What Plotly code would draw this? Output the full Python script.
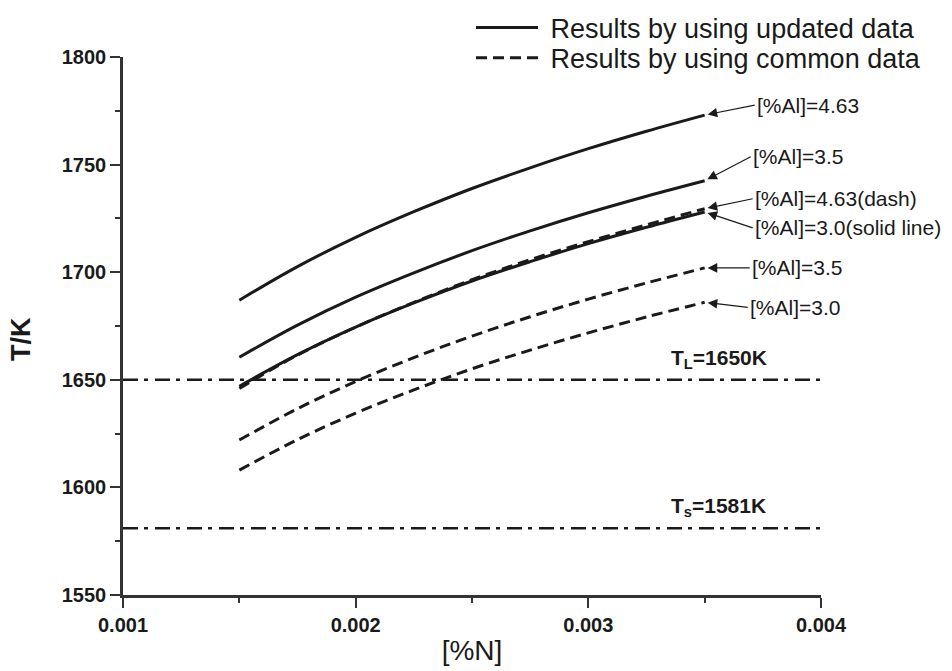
import plotly.graph_objects as go

# Nitrogen content [%N] at which the curves are evaluated
n_pct = [0.0015, 0.00175, 0.002, 0.00225, 0.0025, 0.00275, 0.003, 0.00325, 0.0035]

# Temperatures (K) computed with updated data
upd_al463 = [1687.0, 1702.6, 1716.2, 1728.1, 1738.9, 1748.5, 1757.4, 1765.5, 1773.0]
upd_al35 = [1660.5, 1675.4, 1688.4, 1699.7, 1710.0, 1719.2, 1727.6, 1735.3, 1742.5]
upd_al30 = [1647.0, 1661.7, 1674.5, 1685.7, 1695.9, 1704.9, 1713.3, 1720.9, 1728.0]

# Temperatures (K) computed with common data
com_al463 = [1646.0, 1661.5, 1674.5, 1686.0, 1696.5, 1705.8, 1714.2, 1722.0, 1729.5]
com_al35 = [1622.0, 1636.6, 1649.2, 1660.3, 1670.3, 1679.3, 1687.5, 1695.0, 1702.0]
com_al30 = [1608.0, 1622.2, 1634.5, 1645.3, 1655.1, 1663.8, 1671.8, 1679.2, 1686.0]

# Liquidus / solidus temperatures
ref_x = [0.001, 0.004]
t_liquidus = 1650
t_solidus = 1581

x_ticks = [0.001, 0.002, 0.003, 0.004]
y_ticks = [1550, 1600, 1650, 1700, 1750, 1800]

INK = "#1a1a1a"
AXIS = "#333333"
FONT = "Liberation Sans, Arial, sans-serif"
DASH = "11px,6px"
DASHDOT = "15px,6px,4px,7px"
NB = "\u00a0"

fig = go.Figure()

solid = [(NB + "Results by using updated data", upd_al463, True),
         ("updated 3.5", upd_al35, False),
         ("updated 3.0", upd_al30, False)]
dashed = [(NB + "Results by using common data", com_al463, True),
          ("common 3.5", com_al35, False),
          ("common 3.0", com_al30, False)]

for name, ys, show in solid:
    fig.add_trace(go.Scatter(x=n_pct, y=ys, mode="lines", name=name, showlegend=show,
                             legend="legend",
                             line=dict(color=INK, width=3, shape="spline")))
for name, ys, show in dashed:
    fig.add_trace(go.Scatter(x=n_pct, y=ys, mode="lines", name=name, showlegend=show,
                             legend="legend2",
                             line=dict(color=INK, width=3, dash=DASH, shape="spline")))

for t in (t_liquidus, t_solidus):
    fig.add_trace(go.Scatter(x=ref_x, y=[t, t], mode="lines", showlegend=False,
                             line=dict(color=INK, width=2.5, dash=DASHDOT)))

# Curve labels with arrows pointing at the curve ends
labels = [
    ("[%Al]=4.63", upd_al463[-1], 50, -10),
    ("[%Al]=3.5", upd_al35[-1], 46, -24),
    ("[%Al]=4.63(dash)", com_al463[-1], 48, -10),
    ("[%Al]=3.0(solid line)", upd_al30[-1], 48, 16),
    ("[%Al]=3.5", com_al35[-1], 45, 0),
    ("[%Al]=3.0", com_al30[-1], 43, 5),
]
for text, yv, ax, ay in labels:
    fig.add_annotation(x=n_pct[-1], y=yv, text=text, showarrow=True,
                       ax=ax, ay=ay, xanchor="left", yanchor="middle",
                       arrowhead=2, arrowsize=1.6, arrowwidth=1.2, arrowcolor=INK,
                       standoff=3, font=dict(family=FONT, size=21, color=INK))

for label, t in (("T<sub>L</sub>=1650K", t_liquidus), ("T<sub>s</sub>=1581K", t_solidus)):
    fig.add_annotation(x=0.003561, y=t, text=label, showarrow=False,
                       xanchor="center", yanchor="bottom", yshift=6,
                       font=dict(family=FONT, size=21, color=INK, weight="bold"))

# Vertical axis title
fig.add_annotation(xref="paper", yref="paper", x=-0.146, y=0.476, text="T/K",
                   textangle=-90, showarrow=False, xanchor="center", yanchor="middle",
                   font=dict(family=FONT, size=27, color=INK, weight="bold"))

axis_common = dict(showline=True, linewidth=2.5, linecolor=AXIS, ticks="outside",
                   tickcolor=AXIS, tickwidth=2, ticklen=10, showgrid=False,
                   zeroline=False, mirror=False,
                   tickfont=dict(family=FONT, size=20, color=INK, weight="bold"))

fig.update_xaxes(range=[0.001, 0.004], tickvals=x_ticks,
                 ticktext=[f"{v:.3f}" for v in x_ticks],
                 minor=dict(dtick=0.0005, ticklen=5, tickwidth=2, tickcolor=AXIS, ticks="outside"),
                 title=dict(text="[%N]", standoff=6,
                            font=dict(family=FONT, size=28, color=INK)),
                 **axis_common)
fig.update_yaxes(range=[1550, 1800], tickvals=y_ticks,
                 minor=dict(dtick=25, ticklen=5, tickwidth=2, tickcolor=AXIS, ticks="outside"),
                 **axis_common)

legend_style = dict(xanchor="left", yanchor="middle", bgcolor="rgba(0,0,0,0)",
                    itemwidth=62, font=dict(family=FONT, size=27, color=INK))
fig.update_layout(
    width=952, height=671,
    margin=dict(l=123, r=131, t=57, b=76, autoexpand=False),
    paper_bgcolor="white", plot_bgcolor="white",
    showlegend=True,
    legend=dict(x=0.4986, y=1.054, **legend_style),
    legend2=dict(x=0.4986, y=0.998, **legend_style),
)

fig.write_html("out.html")
